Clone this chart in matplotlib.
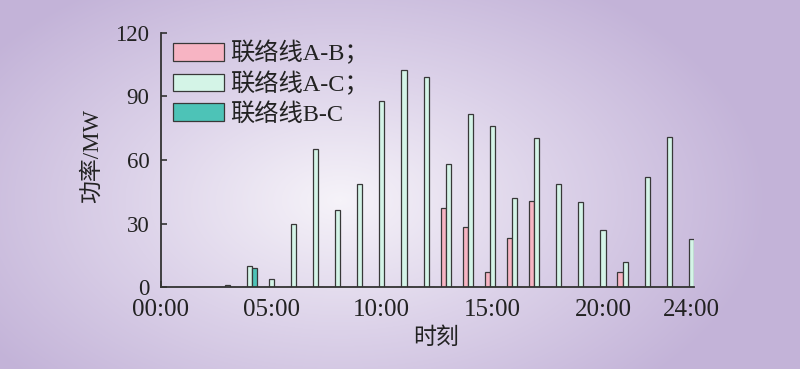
import numpy as np
import matplotlib
matplotlib.use("Agg")
import matplotlib.pyplot as plt
from matplotlib.colors import LinearSegmentedColormap

plt.rcParams['font.family'] = ['Liberation Serif', 'Noto Sans CJK SC', 'DejaVu Sans']

hours = list(range(1, 25))
ab = [0, 0, 0, 0, 0, 0, 0, 0, 0, 0, 0, 0, 37.4, 28.6, 7.1, 23.2, 40.7, 0, 0, 0, 7.2, 0, 0, 0]
ac = [0, 0, 1.1, 10.0, 3.9, 30.0, 65.0, 36.6, 48.7, 87.7, 102.6, 99.3,
      58.0, 81.5, 76.0, 41.9, 70.2, 48.7, 40.4, 27.0, 11.8, 51.8, 71.0, 22.9]
bc = [0, 0, 0, 9.0, 0, 0, 0, 0, 0, 0, 0, 0, 0, 0, 0, 0, 0, 0, 0, 0, 0, 0, 0, 0]
labels = ['联络线A-B；', '联络线A-C；', '联络线B-C']
xtick_pos = [0, 5, 10, 15, 20, 24]
xtick_labels = ['00:00', '05:00', '10:00', '15:00', '20:00', '24:00']
ytick_pos = [0, 30, 60, 90, 120]

fig = plt.figure(figsize=(8, 3.69), dpi=100)

# radial gradient background
bg = fig.add_axes([0, 0, 1, 1], zorder=-10)
W, H = 800, 369
yy, xx = np.mgrid[0:H, 0:W]
cx, cy = 340, 200
r = np.sqrt(((xx - cx) / 430.0) ** 2 + ((yy - cy) / 260.0) ** 2)
r = np.clip(r, 0, 1)
cmap = LinearSegmentedColormap.from_list('bg', ['#f6f3f9', '#dcd2e9', '#c3b3d8'])
bg.imshow(r, cmap=cmap, vmin=0, vmax=1, aspect='auto', interpolation='bilinear')
bg.axis('off')

ax = fig.add_axes([0.2009, 0.2214, 0.667, 0.690])
ax.patch.set_alpha(0)

x = np.array(hours, dtype=float)
w = 0.23
ec = '#383838'
lw = 0.9
ax.bar(x - w, ab, width=w, color='#f7b4c3', edgecolor=ec, linewidth=lw, label=labels[0], zorder=2)
ax.bar(x, ac, width=w, color='#d4f4e7', edgecolor=ec, linewidth=lw, label=labels[1], zorder=2)
ax.bar(x + w, bc, width=w, color='#4dc3b7', edgecolor=ec, linewidth=lw, label=labels[2], zorder=2)

ax.set_xlim(0, 24.13)
ax.set_ylim(0, 120)
for s in ['top', 'right']:
    ax.spines[s].set_visible(False)
for s in ['left', 'bottom']:
    ax.spines[s].set_color('#333333')
    ax.spines[s].set_linewidth(1.3)
    ax.spines[s].set_zorder(5)

ax.set_xticks(xtick_pos)
ax.set_xticklabels(xtick_labels)
ax.set_yticks(ytick_pos)
ax.tick_params(axis='both', direction='in', length=4, width=1.2, color='#333333', zorder=6)
ax.tick_params(axis='x', labelsize=18, pad=8.5)
ax.tick_params(axis='y', labelsize=16.5, pad=8.2)
for t in ax.get_xticklabels() + ax.get_yticklabels():
    t.set_color('#222222')

ax.set_xlabel('时刻', fontsize=16.5, color='#222222', va='center')
ax.xaxis.set_label_coords(0.516, -0.2)
ax.set_ylabel('功率/MW', fontsize=16.5, color='#222222', va='center')
ax.yaxis.set_label_coords(-0.1287, 0.517)

leg = ax.legend(loc='upper left', bbox_to_anchor=(0.0225, 0.967), frameon=False,
                fontsize=17.5, handlelength=2.09, handleheight=0.71,
                handletextpad=0.27, labelspacing=0.26, borderaxespad=0.0,
                borderpad=0.0)
for t in leg.get_texts():
    t.set_color('#222222')

fig.savefig('out.png', dpi=100)
